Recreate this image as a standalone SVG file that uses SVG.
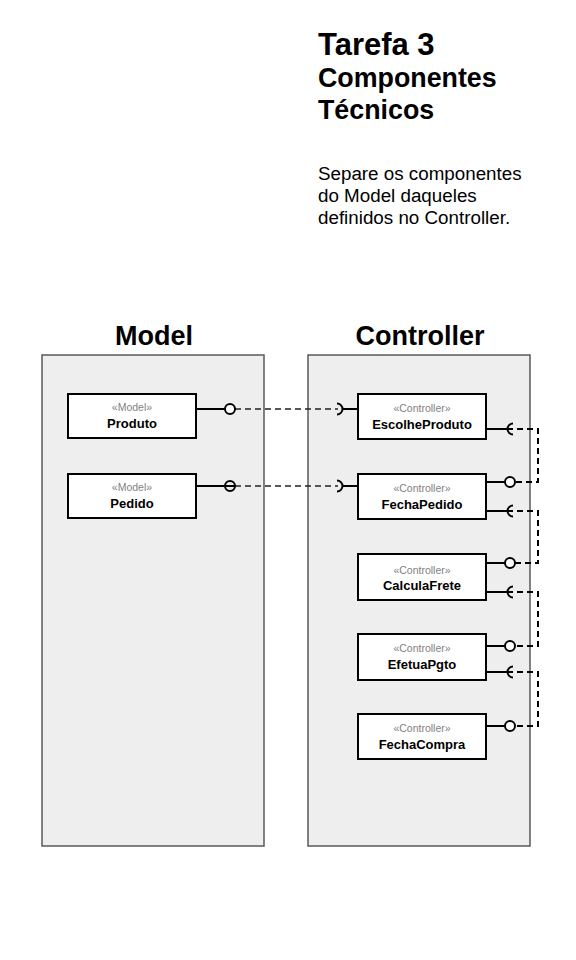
<svg xmlns="http://www.w3.org/2000/svg" width="576" height="960" viewBox="0 0 576 960">
<style>
text{font-family:"Liberation Sans",Arial,sans-serif;}
.title{font-weight:bold;fill:#000;}
.body{font-size:18.8px;fill:#000;}
.pkg{fill:#eeeeee;stroke:#595959;stroke-width:1.5;}
.pkglabel{font-size:27px;font-weight:bold;text-anchor:middle;}
.box{fill:#ffffff;stroke:#000;stroke-width:2;}
.st{font-size:10.5px;fill:#7f7f7f;text-anchor:middle;}
.nm{font-size:13px;font-weight:bold;fill:#000;text-anchor:middle;}
.solid{stroke:#000;stroke-width:2;fill:none;}
.ball{stroke:#000;stroke-width:2;fill:#ffffff;}
.balln{stroke:#000;stroke-width:2;fill:none;}
.dashL{stroke:#222;stroke-width:1.4;stroke-dasharray:6 4;fill:none;}
.dashR{stroke:#000;stroke-width:2;stroke-dasharray:6 4;fill:none;}
</style>

<g id="title">
<text class="title" x="318" y="55" font-size="31">Tarefa 3</text>
<text class="title" x="318" y="87" font-size="26.8">Componentes</text>
<text class="title" x="318" y="119" font-size="26.8">Técnicos</text>
<text class="body" x="318" y="180">Separe os componentes</text>
<text class="body" x="318" y="202">do Model daqueles</text>
<text class="body" x="318" y="224">definidos no Controller.</text>
</g>

<g id="pkg-model">
<rect class="pkg" x="42" y="355" width="222" height="491"/>
<text class="pkglabel" x="154" y="345">Model</text>
</g>
<g id="pkg-controller">
<rect class="pkg" x="308" y="355" width="222" height="491"/>
<text class="pkglabel" x="420" y="345">Controller</text>
</g>

<g id="connectors">
<line class="solid" x1="196" y1="409" x2="225" y2="409"/>
<line class="dashL" x1="235" y1="409" x2="338" y2="409"/>
<path class="solid" d="M337 403.5 A5.5 5.5 0 0 1 337 414.5"/>
<line class="solid" x1="342.5" y1="409" x2="358" y2="409"/>
<circle class="ball" cx="230" cy="409" r="5"/>

<line class="solid" x1="196" y1="486" x2="235" y2="486"/>
<line class="dashL" x1="235" y1="486" x2="338" y2="486"/>
<path class="solid" d="M337 480.5 A5.5 5.5 0 0 1 337 491.5"/>
<line class="solid" x1="342.5" y1="486" x2="358" y2="486"/>
<circle class="balln" cx="230" cy="486" r="5"/>

<line class="solid" x1="486" y1="429" x2="513" y2="429"/>
<path class="solid" d="M513 423.5 A5.5 5.5 0 0 0 513 434.5"/>
<path class="dashR" d="M517 429 H538 V482 H515"/>
<line class="solid" x1="486" y1="482" x2="505" y2="482"/>
<circle class="ball" cx="510" cy="482" r="5"/>

<line class="solid" x1="486" y1="511" x2="513" y2="511"/>
<path class="solid" d="M513 505.5 A5.5 5.5 0 0 0 513 516.5"/>
<path class="dashR" d="M517 511 H538 V563 H515"/>
<line class="solid" x1="486" y1="563" x2="505" y2="563"/>
<circle class="ball" cx="510" cy="563" r="5"/>

<line class="solid" x1="486" y1="592" x2="513" y2="592"/>
<path class="solid" d="M513 586.5 A5.5 5.5 0 0 0 513 597.5"/>
<path class="dashR" d="M517 592 H538 V646 H515"/>
<line class="solid" x1="486" y1="646" x2="505" y2="646"/>
<circle class="ball" cx="510" cy="646" r="5"/>

<line class="solid" x1="486" y1="672" x2="513" y2="672"/>
<path class="solid" d="M513 666.5 A5.5 5.5 0 0 0 513 677.5"/>
<path class="dashR" d="M517 672 H538 V726 H515"/>
<line class="solid" x1="486" y1="726" x2="505" y2="726"/>
<circle class="ball" cx="510" cy="726" r="5"/>
</g>

<g id="node-produto">
<rect class="box" x="68" y="394" width="128" height="44"/>
<text class="st" x="132" y="411">«Model»</text>
<text class="nm" x="132" y="428">Produto</text>
</g>
<g id="node-pedido">
<rect class="box" x="68" y="474" width="128" height="44"/>
<text class="st" x="132" y="491">«Model»</text>
<text class="nm" x="132" y="508">Pedido</text>
</g>

<g id="node-escolheproduto">
<rect class="box" x="358" y="394" width="128" height="45"/>
<text class="st" x="422" y="412">«Controller»</text>
<text class="nm" x="422" y="429">EscolheProduto</text>
</g>
<g id="node-fechapedido">
<rect class="box" x="358" y="474" width="128" height="45"/>
<text class="st" x="422" y="492">«Controller»</text>
<text class="nm" x="422" y="509">FechaPedido</text>
</g>
<g id="node-calculafrete">
<rect class="box" x="358" y="554" width="128" height="46"/>
<text class="st" x="422" y="574">«Controller»</text>
<text class="nm" x="422" y="590" font-size="12">CalculaFrete</text>
</g>
<g id="node-efetuapgto">
<rect class="box" x="358" y="634" width="128" height="46"/>
<text class="st" x="422" y="652">«Controller»</text>
<text class="nm" x="422" y="669">EfetuaPgto</text>
</g>
<g id="node-fechacompra">
<rect class="box" x="358" y="714" width="128" height="45"/>
<text class="st" x="422" y="732">«Controller»</text>
<text class="nm" x="422" y="749">FechaCompra</text>
</g>
</svg>
